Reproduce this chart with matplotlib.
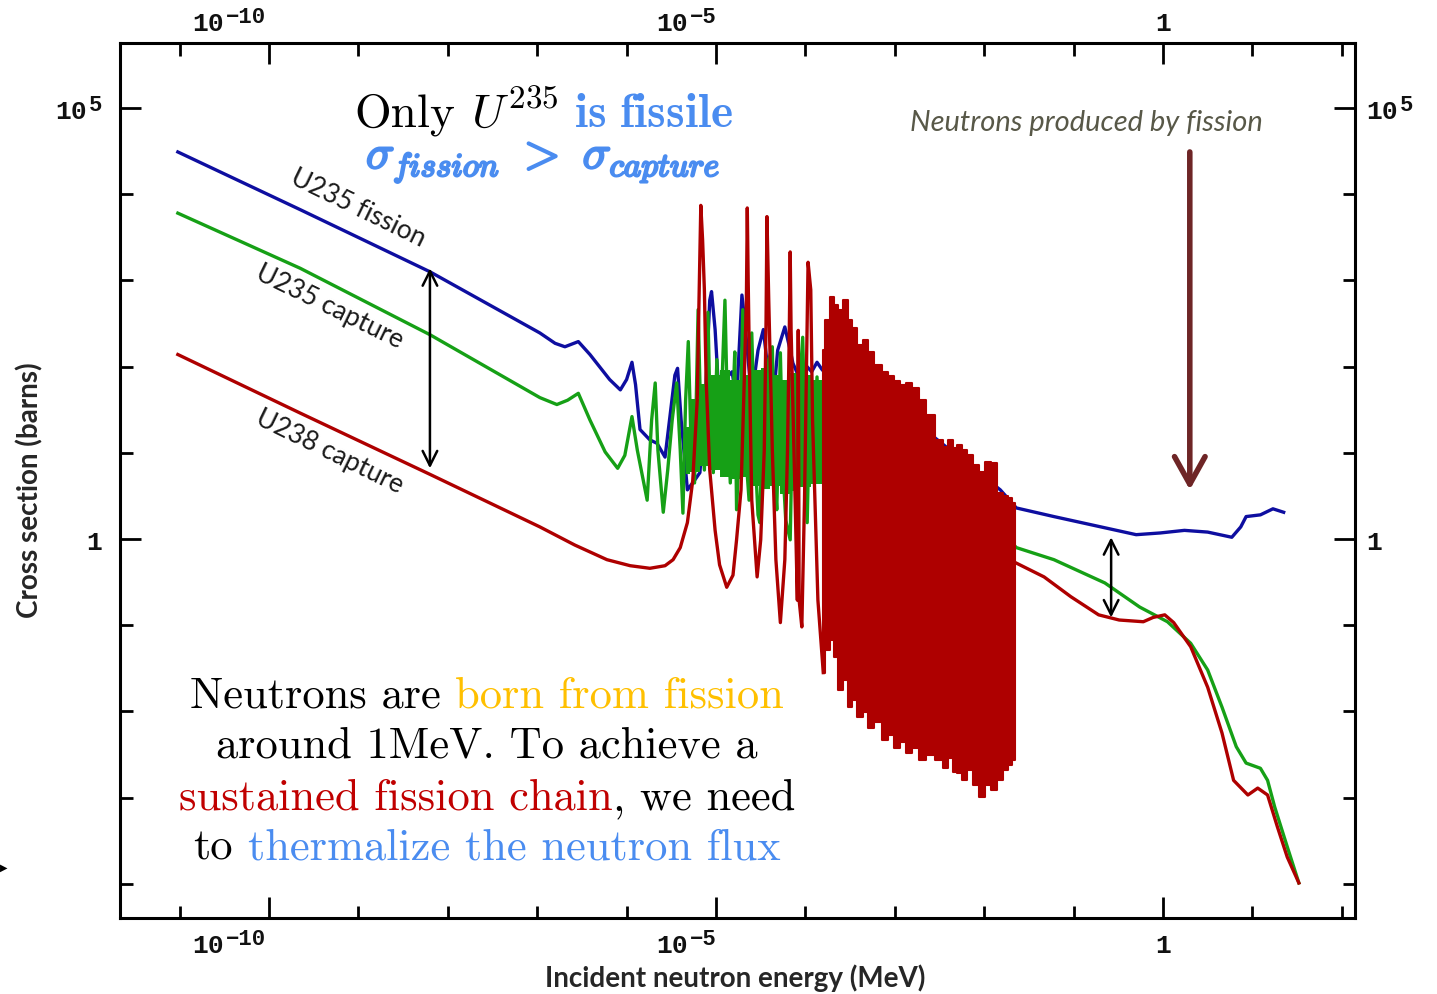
import numpy as np
import matplotlib
matplotlib.use("Agg")
import matplotlib.pyplot as plt
import matplotlib.transforms as mtransforms
import matplotlib.patheffects as pe

# ---------------- data (log10 of energy in MeV, log10 of cross section in barns) -------------
u235_fission_log_e = [-11.02, -9.65, -8.20, -6.97, -6.80, -6.69, -6.54, -6.41, -6.19, -6.07, -6.00, -5.94,
                      -5.90, -5.85, -5.74, -5.66, -5.57, -5.52, -5.46, -5.43, -5.39, -5.32, -5.24, -5.18,
                      -5.12, -5.07, -5.05, -5.01, -4.96, -4.90, -4.82, -4.77, -4.71, -4.68, -4.62, -4.59,
                      -4.53, -4.47, -4.42, -4.36, -4.31, -4.23, -4.17, -4.14, -4.06, -4.00, -3.93, -3.87,
                      -3.81, -3.73, -3.50, -3.31, -2.94, -2.38, -1.82, -1.64, -1.22, -0.65, -0.30, -0.03,
                      0.24, 0.50, 0.77, 0.87, 0.93, 1.09, 1.23, 1.35]
u235_fission_log_s = [4.49, 3.82, 3.10, 2.39, 2.27, 2.23, 2.29, 2.14, 1.85, 1.73, 1.85, 2.05,
                      1.79, 1.27, 1.15, 1.11, 0.95, 1.38, 1.90, 1.98, 1.38, 0.57, 0.68, 0.77,
                      1.61, 2.77, 2.87, 2.43, 1.53, 1.85, 1.94, 1.61, 2.83, 2.54, 1.85, 1.73,
                      2.19, 2.43, 1.96, 1.61, 2.19, 2.46, 2.19, 2.04, 1.85, 2.02, 1.94, 2.05,
                      1.96, 1.90, 1.88, 1.76, 1.50, 1.03, 0.57, 0.36, 0.26, 0.13, 0.05, 0.07,
                      0.10, 0.08, 0.02, 0.14, 0.26, 0.28, 0.35, 0.31]

u235_capture_log_e = [-11.02, -9.65, -8.20, -6.97, -6.78, -6.66, -6.54, -6.41, -6.24, -6.10, -6.02, -5.94, -5.88,
                      -5.77, -5.72, -5.68, -5.65, -5.59, -5.54, -5.49, -5.44, -5.40, -5.37,
                      -5.34, -5.31, -5.28, -5.24, -5.20, -5.17, -5.13, -5.09, -5.06, -5.03,
                      -4.99, -4.96, -4.90, -4.87, -4.84, -4.81, -4.79, -4.77, -4.73, -4.70,
                      -4.67, -4.63, -4.60, -4.56, -4.53, -4.51, -4.47, -4.44, -4.41, -4.37,
                      -4.34, -4.32, -4.28, -4.25, -4.22, -4.17, -4.14, -4.11, -4.06, -4.03,
                      -4.00, -3.98, -3.95, -3.92, -3.87, -3.84, -3.79, -3.75, -3.67, -3.50,
                      -3.28, -2.94, -2.38, -1.82, -1.64, -1.22, -0.65, -0.26, 0.05, 0.31,
                      0.50, 0.66, 0.82, 0.93, 1.09, 1.17, 1.25, 1.39, 1.52]
u235_capture_log_s = [3.78, 3.14, 2.37, 1.64, 1.56, 1.61, 1.69, 1.38, 1.01, 0.82, 0.97, 1.42, 1.03,
                      0.45, 1.38, 1.81, 1.03, 0.31, 0.80, 1.38, 1.81, 1.03, 0.30,
                      1.61, 2.29, 1.15, 0.65, 2.66, 1.38, 0.80, 2.63, 1.15, 0.77,
                      2.08, 1.03, 2.77, 1.38, 0.65, 1.61, 2.17, 0.34, 1.27, 2.66,
                      1.03, 0.45, 2.39, 0.92, 0.28, 0.19, 1.85, 0.80, 2.08, 2.23,
                      0.68, 0.34, 2.16, 0.80, 0.22, -0.01, 1.61, 0.80, 1.85, 2.34,
                      1.03, 0.19, 1.61, 0.80, 1.88, 0.92, 1.38, 1.73, 1.81, 1.81,
                      1.50, 1.27, 0.80, 0.10, -0.10, -0.24, -0.51, -0.79, -0.96, -1.21,
                      -1.52, -1.95, -2.41, -2.60, -2.66, -2.80, -3.11, -3.57, -3.99]

# dense core of the U235 capture resonance region (upper / lower envelope)
u235_capture_core_log_e = [-5.34, -5.24, -5.12, -5.01, -4.90, -4.79, -4.68, -4.56, -4.45, -4.34, -4.23,
                           -4.12, -4.00, -3.89, -3.75]
u235_capture_core_top = [1.30, 1.62, 1.80, 1.90, 1.96, 1.85, 1.90, 1.96, 1.98, 1.90, 1.85,
                         1.92, 1.90, 1.85, 1.75]
u235_capture_core_bottom = [0.75, 0.78, 0.85, 0.80, 0.72, 0.70, 0.72, 0.62, 0.58, 0.62, 0.52,
                            0.56, 0.60, 0.64, 0.78]

u238_capture_log_e = [-11.02, -9.65, -8.20, -6.97, -6.58, -6.22, -5.96, -5.74, -5.57, -5.48,
                      -5.40, -5.32, -5.26, -5.21, -5.19, -5.17, -5.15, -5.13, -5.11, -5.07,
                      -5.01, -4.96, -4.88, -4.81, -4.77, -4.72, -4.69, -4.66, -4.65, -4.64,
                      -4.62, -4.60, -4.54, -4.50, -4.46, -4.44, -4.43, -4.41, -4.37, -4.33,
                      -4.28, -4.23, -4.20, -4.18, -4.17, -4.16, -4.12, -4.09, -4.08, -4.07,
                      -4.04, -4.01, -3.99, -3.97, -3.94, -3.92, -3.86, -3.80]
u238_capture_log_s = [2.14, 1.46, 0.75, 0.14, -0.07, -0.24, -0.31, -0.34, -0.31, -0.24,
                      -0.10, 0.19, 0.68, 1.61, 2.77, 3.87, 3.47, 2.89, 1.84, 0.80,
                      0.10, -0.30, -0.56, -0.42, -0.01, 0.57, 1.61, 2.77, 3.84, 3.00,
                      1.61, 0.45, -0.44, -0.01, 1.03, 2.54, 3.74, 2.77, 1.03, -0.24,
                      -0.97, -0.24, 1.03, 2.42, 3.33, 2.42, 0.68, -0.71, 2.42, -0.71,
                      -1.02, 0.45, 1.84, 3.21, 2.89, 1.38, -0.71, -1.55]

# unresolved dense resonance band of U238 capture (upper / lower envelope)
u238_band_log_e = [-3.80, -3.76, -3.70, -3.66, -3.61, -3.56, -3.50, -3.45, -3.39, -3.33, -3.28, -3.19,
                   -3.11, -3.05, -2.98, -2.91, -2.85, -2.77, -2.70, -2.61, -2.49, -2.44, -2.38, -2.33,
                   -2.27, -2.22, -2.16, -2.10, -2.03, -1.96, -1.90, -1.82, -1.77, -1.71, -1.66]
u238_band_top = [2.19, 2.54, 2.81, 2.72, 2.66, 2.77, 2.54, 2.45, 2.25, 2.31, 2.17, 2.02,
                 1.94, 1.89, 1.83, 1.79, 1.81, 1.75, 1.61, 1.44, 1.15, 1.07, 1.15, 1.06,
                 1.09, 1.03, 0.97, 0.86, 0.78, 0.89, 0.88, 0.53, 0.50, 0.48, 0.42]
u238_band_bottom = [-1.55, -1.29, -1.17, -1.37, -1.75, -1.64, -1.95, -1.87, -2.07, -2.01, -2.19, -2.12,
                    -2.33, -2.27, -2.43, -2.36, -2.48, -2.43, -2.56, -2.51, -2.56, -2.66, -2.54, -2.70,
                    -2.72, -2.80, -2.68, -2.85, -2.99, -2.85, -2.91, -2.80, -2.68, -2.62, -2.56]

u238_fast_log_e = [-1.64, -1.33, -1.03, -0.72, -0.49, -0.22, -0.11, 0.02, 0.12, 0.31, 0.50, 0.66,
                   0.79, 0.95, 1.06, 1.17, 1.28, 1.39, 1.52]
u238_fast_log_s = [-0.28, -0.44, -0.67, -0.88, -0.94, -0.96, -0.91, -0.88, -0.97, -1.25, -1.72, -2.25,
                   -2.80, -2.97, -2.89, -2.97, -3.34, -3.69, -3.99]

x_log_lim = (-11.667, 2.148)
y_log_lim = (-4.397, 5.754)
x_major_exp = [-10, -5, 0]
x_minor_exp = [-11, -9, -8, -7, -6, -4, -3, -2, -1, 1, 2]
y_major_exp = [5, 0]
y_minor_exp = [-4, -3, -2, -1, 1, 2, 3, 4]
x_tick_base = ["10", "10", "1"]
x_tick_sup = ["\u221210", "\u22125", ""]
y_tick_base = ["10", "1"]
y_tick_sup = ["5", ""]

curve_labels = ["U235 fission", "U235 capture", "U238 capture"]
curve_label_log_e = [-9.00, -9.32, -9.32]
curve_label_log_s = [3.84, 2.69, 1.01]

# annotation arrows (log10 energy, log10 sigma from, log10 sigma to)
gap_arrow_thermal = (-8.20, 3.14, 0.82)
gap_arrow_fast = (-0.58, 0.02, -0.91)
fission_arrow = (0.30, 4.49, 0.57)

# ---------------- styling ----------------
BLUE_C = "#0E0EA0"
GREEN_C = "#16A016"
RED_C = "#AE0000"
TXT_BLUE = "#4A8CF0"
TXT_ORANGE = "#FFC000"
TXT_RED = "#C00000"

plt.rcParams["font.family"] = ["DejaVu Sans"]

W, H = 1437, 994
fig = plt.figure(figsize=(W / 100, H / 100), dpi=100)
fig.patch.set_facecolor("white")
ax = fig.add_axes([120 / W, 1 - 918 / H, 1235 / W, 875 / H])
ax.set_xscale("log")
ax.set_yscale("log")
ax.set_xlim(10 ** x_log_lim[0], 10 ** x_log_lim[1])
ax.set_ylim(10 ** y_log_lim[0], 10 ** y_log_lim[1])

for sp_ in ax.spines.values():
    sp_.set_linewidth(2.2)
ax.set_xticks([10.0 ** k for k in x_major_exp])
ax.set_xticks([10.0 ** k for k in x_minor_exp], minor=True)
ax.set_yticks([10.0 ** k for k in y_major_exp])
ax.set_yticks([10.0 ** k for k in y_minor_exp], minor=True)
ax.tick_params(which="both", direction="in", top=True, right=True, width=2,
               labelbottom=False, labelleft=False, labeltop=False, labelright=False)
ax.tick_params(which="major", length=15)
ax.tick_params(which="minor", length=9)


def p10(a):
    return 10.0 ** np.asarray(a, dtype=float)


lw = 2.4
ax.plot(p10(u235_fission_log_e), p10(u235_fission_log_s), color=BLUE_C, lw=lw, zorder=2)
ax.fill_between(p10(u235_capture_core_log_e), p10(u235_capture_core_bottom), p10(u235_capture_core_top),
                step="mid", color=GREEN_C, lw=0, zorder=3)
ax.plot(p10(u235_capture_log_e), p10(u235_capture_log_s), color=GREEN_C, lw=lw, zorder=3)
ax.plot(p10(u238_capture_log_e), p10(u238_capture_log_s), color=RED_C, lw=lw, zorder=4)
ax.fill_between(p10(u238_band_log_e), p10(u238_band_bottom), p10(u238_band_top), step="mid",
                color=RED_C, lw=1.5, zorder=4)
ax.plot(p10(u238_fast_log_e), p10(u238_fast_log_s), color=RED_C, lw=lw, zorder=4)

# curve labels
for lab, le, ls in zip(curve_labels, curve_label_log_e, curve_label_log_s):
    ax.text(10 ** le, 10 ** ls, lab, rotation=-26, rotation_mode="anchor", ha="center", va="center",
            fontsize=19, family="Lato", color="#1a1a1a", zorder=6)

# arrows
for (le, s0, s1) in [gap_arrow_thermal, gap_arrow_fast]:
    ax.annotate("", xy=(10 ** le, 10 ** s1), xytext=(10 ** le, 10 ** s0),
                arrowprops=dict(arrowstyle="<->,head_length=0.7,head_width=0.35", color="black",
                                lw=1.8, shrinkA=0, shrinkB=0, mutation_scale=15), zorder=7)
le, s0, s1 = fission_arrow
ax.annotate("", xy=(10 ** le, 10 ** s1), xytext=(10 ** le, 10 ** s0),
            arrowprops=dict(arrowstyle="->,head_length=0.9,head_width=0.5", color="#6E2526",
                            lw=4, shrinkA=0, shrinkB=0, mutation_scale=22), zorder=7)

# ---------------- rich text helpers ----------------
IDT = mtransforms.IdentityTransform()
R = fig.canvas.get_renderer()


def width_of(t):
    return t.get_window_extent(renderer=R).width


def space_px(**kw):
    a = fig.text(0, 0, "n n", transform=IDT, **kw)
    b = fig.text(0, 0, "nn", transform=IDT, **kw)
    w = width_of(a) - width_of(b)
    a.remove()
    b.remove()
    return w


def rich(parts, x, y_img, align="center"):
    y = H - y_img
    objs = []
    for s, gap, dy, kw in parts:
        t = fig.text(0, 0, s, transform=IDT, ha="left", va="baseline", **kw)
        objs.append((t, gap, dy, width_of(t)))
    total = sum(g + w for _, g, _, w in objs)
    if align == "center":
        cur = x - total / 2
    elif align == "right":
        cur = x - total
    else:
        cur = x
    for t, g, dy, w in objs:
        cur += g
        t.set_position((cur, y + dy))
        cur += w


SER = dict(family="cmr10", fontsize=32)
SER_TOP = dict(family="cmr10", fontsize=34)
MATH_TOP = dict(fontsize=34, math_fontfamily="cm")
sp = space_px(**SER)
sp_top = space_px(**SER_TOP)

rich([("Only", 0, 0, dict(SER_TOP, color="black")),
      (r"$U^{235}$", sp_top, 0, dict(MATH_TOP, color="black")),
      (r"$\mathbf{is\ fissile}$", sp_top, 0, dict(MATH_TOP, color=TXT_BLUE))], 544, 127)
fig.text(543, H - 168, r"$\sigma_{fission}\ >\ \sigma_{capture}$", transform=IDT, ha="center",
         va="baseline", fontsize=34, math_fontfamily="cm", color=TXT_BLUE,
         path_effects=[pe.withStroke(linewidth=1.6, foreground=TXT_BLUE)])

rich([("Neutrons are", 0, 0, dict(SER, color="black")),
      ("born from fission", sp, 0, dict(SER, color=TXT_ORANGE))], 487, 708)
rich([("around 1MeV. To achieve a", 0, 0, dict(SER, color="black"))], 487, 758)
rich([("sustained fission chain", 0, 0, dict(SER, color=TXT_RED)),
      (",", 0, 0, dict(SER, color="black")),
      ("we need", sp, 0, dict(SER, color="black"))], 487, 810)
rich([("to", 0, 0, dict(SER, color="black")),
      ("thermalize the neutron flux", sp, 0, dict(SER, color=TXT_BLUE))], 487, 860)

fig.text(1086, H - 131, "Neutrons produced by fission", transform=IDT, ha="center", va="baseline",
         fontsize=21, family="Lato", style="italic", color="#585848")

# axis labels
fig.text(735 / W, 1 - 978 / H, "Incident neutron energy (MeV)", ha="center", va="center",
         fontsize=20, family="Lato", weight="bold", color="#262626")
fig.text(30 / W, 1 - 490 / H, "Cross section (barns)", ha="center", va="center", rotation=90,
         fontsize=20, family="Lato", weight="bold", color="#262626")

# tick labels (drawn at positions derived from the tick locations)
TB = dict(family="Liberation Mono", weight="bold", fontsize=19, color="#111111")
TS = dict(family="Liberation Mono", weight="bold", fontsize=16, color="#111111")
x_label_shift = [-40, -30, 0]
for k, base, sup, dx in zip(x_major_exp, x_tick_base, x_tick_sup, x_label_shift):
    px, _ = ax.transData.transform((10.0 ** k, 1.0))
    for y_img in (953, 31):
        parts = [(base, 0, 0, TB)]
        if sup:
            parts.append((sup, 2, 8, TS))
        rich(parts, px + dx, y_img)
for k, base, sup in zip(y_major_exp, y_tick_base, y_tick_sup):
    _, py = ax.transData.transform((1.0, 10.0 ** k))
    y_img = H - py + 11
    parts = [(base, 0, 0, TB)]
    if sup:
        parts.append((sup, 2, 8, TS))
    rich(parts, 102, y_img, align="right")
    rich(parts, 1366, y_img, align="left")

fig.text(0, 1 - 868 / H, "\u25B6", fontsize=7, ha="left", va="center", family="DejaVu Sans")

fig.savefig("out.png", dpi=100, facecolor="white")
